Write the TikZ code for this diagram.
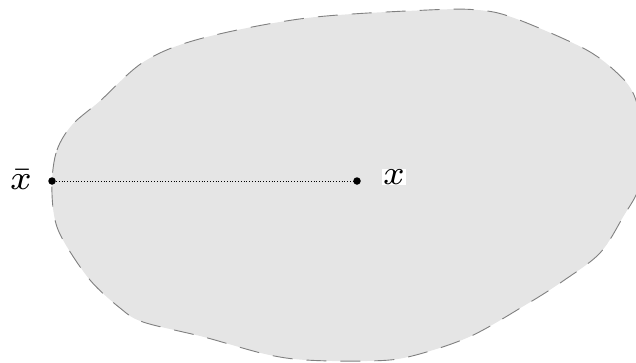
\documentclass[tikz,border=0pt]{standalone}
\usepackage{graphicx}
\usepackage{tikz}
\newcommand{\biglbl}[1]{\scalebox{4.9}{\scriptsize #1}}
\begin{document}
\begin{tikzpicture}[x=1pt,y=-1pt,
  blob/.style={fill=black!10,draw=black!50,line width=0.9pt,dash pattern=on 20pt off 14pt},
  pt/.style={circle,fill=black,inner sep=0pt,minimum size=7.5pt},
  lbl/.style={inner sep=1pt}]
\useasboundingbox (0,0) rectangle (636,362);
\clip (0,0) rectangle (636,362);
\draw[blob] plot[smooth cycle,tension=0.55] coordinates {
(52,181) (57,150) (72,125) (100,101) (145,61) (203,38) (307,18) (428,10) (478,10)
(514,18) (583,48) (615,71) (634,95) (644,140) (640,185) (623,217) (600,253)
(563,281) (527,304) (469,337) (408,357) (367,361) (306,360) (265,354) (204,337)
(143,322) (120,308) (90,280) (63,240) (54,215)};
\node[pt] (xb) at (52,181) {};
\node[pt] (x) at (357,181) {};
\draw[dotted,line width=0.8pt] (xb) -- (x);
\node[lbl] (lxb) at (21,180) {\biglbl{$\bar{x}$}};
\node[lbl,fill=white] (lx) at (394,177) {\biglbl{$x$}};
\end{tikzpicture}
\end{document}
